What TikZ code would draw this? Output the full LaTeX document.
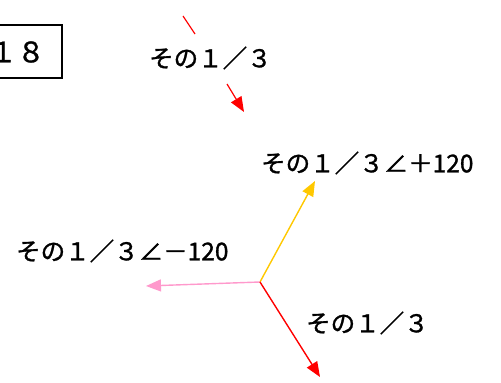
\documentclass[tikz,border=0pt]{standalone}
\usepackage{fontspec}
\setmainfont{Noto Sans CJK JP}[BoldFont=Noto Sans CJK JP,BoldFeatures={FakeBold=1.2}]
\usetikzlibrary{arrows.meta}
\definecolor{vyellow}{RGB}{255,200,0}
\definecolor{vpink}{RGB}{255,153,204}
\tikzset{
  vec/.style={line width=1.4pt,-{Triangle[length=15pt,width=12pt]}},
  lbl/.style={font=\fontsize{24.5}{28}\selectfont\bfseries,inner sep=0pt,anchor=west}
}
\begin{document}
\begin{tikzpicture}[x=1pt,y=-1pt]
\useasboundingbox (0,0) rectangle (501,383);
\clip (0,0) rectangle (501,383);
% box
\node[draw,line width=1.2pt,minimum width=92pt,minimum height=53pt,inner sep=0pt] (box) at (16,51.5) {};
\node[lbl,anchor=center,font=\fontsize{28}{32}\selectfont\bfseries] (num) at (17,52) {１８};
% top label and broken arrow
\node[lbl] (ltop) at (149,58) {その１／３};
\coordinate (t1) at (183,16);
\coordinate (t2) at (195,34);
\coordinate (t3) at (227,84);
\coordinate (t4) at (244,112);
\draw[red,line width=1.2pt] (t1) -- (t2);
\draw[vec,red,line width=1.2pt] (t3) -- (t4);
% three vectors
\coordinate (o) at (260,282);
\coordinate (py) at (315,181);
\coordinate (pp) at (146,286);
\coordinate (pr) at (320,377);
\draw[vec,vyellow] (o) -- (py);
\draw[vec,vpink] (o) -- (pp);
\draw[vec,red] (o) -- (pr);
\node[lbl] (lplus) at (261,163) {その１／３∠＋120};
\node[lbl] (lminus) at (16,251) {その１／３∠－120};
\node[lbl] (lred) at (306,323) {その１／３};
\end{tikzpicture}
\end{document}
